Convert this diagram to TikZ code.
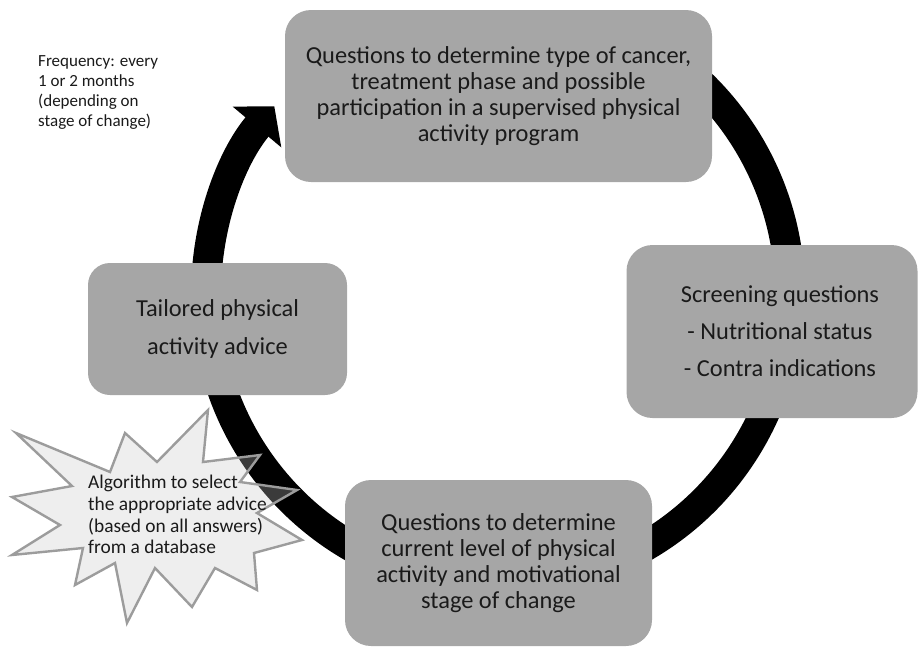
\documentclass[tikz,border=0pt]{standalone}
\usepackage{fontspec}
\setmainfont{Carlito}
\usetikzlibrary{arrows.meta,calc}
\definecolor{boxfill}{HTML}{A6A6A6}
\definecolor{ink}{HTML}{1A1A1A}
\definecolor{burstline}{HTML}{9C9C9C}
\definecolor{burstfill}{HTML}{C6C6C6}

\begin{document}
\begin{tikzpicture}[
  x=1pt, y=-1pt,
  every node/.append style={text=ink},
  stagebox/.style={fill=boxfill, rounded corners=26pt, align=center, inner sep=0pt,
    font=\fontsize{24.4}{26}\selectfont},
  ringarrow/.style={line width=30pt, draw=black, -{Triangle[length=27pt,width=62pt]}},
  burst/.style={draw=burstline, line width=2.4pt, fill=burstfill, fill opacity=0.3},
  note/.style={align=left, inner sep=0pt, anchor=west},
]
\useasboundingbox (0,0) rectangle (918,648);
\def\cx{498}
\def\cy{294}
\def\rr{292}
% --- the cycle: one circular arrow behind the stages ---
\draw[ringarrow] ($(\cx,\cy)+(-60:\rr)$) arc[start angle=-60, end angle=220, radius=\rr];
% --- stages ---
\node[stagebox, minimum width=427pt, minimum height=172pt] (cancer) at (498.5,96)
  {Questions to determine type of cancer,\\treatment phase and possible\\participation in a supervised physical\\activity program};
\node[stagebox, minimum width=291pt, minimum height=173pt, font=\fontsize{24.4}{37}\selectfont] (screen) at (772,331.5)
  {\hspace*{16pt}Screening questions\\\hspace*{16pt}- Nutritional status\\\hspace*{16pt}- Contra indications};
\node[stagebox, minimum width=307pt, minimum height=166pt] (level) at (498.5,563)
  {Questions to determine\\current level of physical\\activity and motivational\\stage of change};
\node[stagebox, minimum width=259pt, minimum height=132pt, rounded corners=22pt, font=\fontsize{24.4}{38}\selectfont] (advice) at (217.5,329)
  {Tailored physical\\activity advice};
% --- algorithm burst ---
\draw[burst] (16,433) -- (110,472) -- (125,433) -- (157,462) -- (208,410) -- (203,462)
  -- (260,455) -- (240,482) -- (297,490) -- (257,513) -- (302,540) -- (254,553)
  -- (257,590) -- (215,568) -- (192,607) -- (155,568) -- (127,623) -- (115,563)
  -- (75,585) -- (83,548) -- (12,555) -- (60,525) -- (12,497) -- (72,486) -- cycle;
\node[note, font=\fontsize{19.4}{21.7}\selectfont] (algo) at (88,514.5)
  {Algorithm to select\\the appropriate advice\\(based on all answers)\\from a database};
% --- frequency note ---
\node[note, font=\fontsize{17}{20.3}\selectfont] (freq) at (38,92.5)
  {Frequency: every\\1 or 2 months\\(depending on\\stage of change)};
\end{tikzpicture}
\end{document}
